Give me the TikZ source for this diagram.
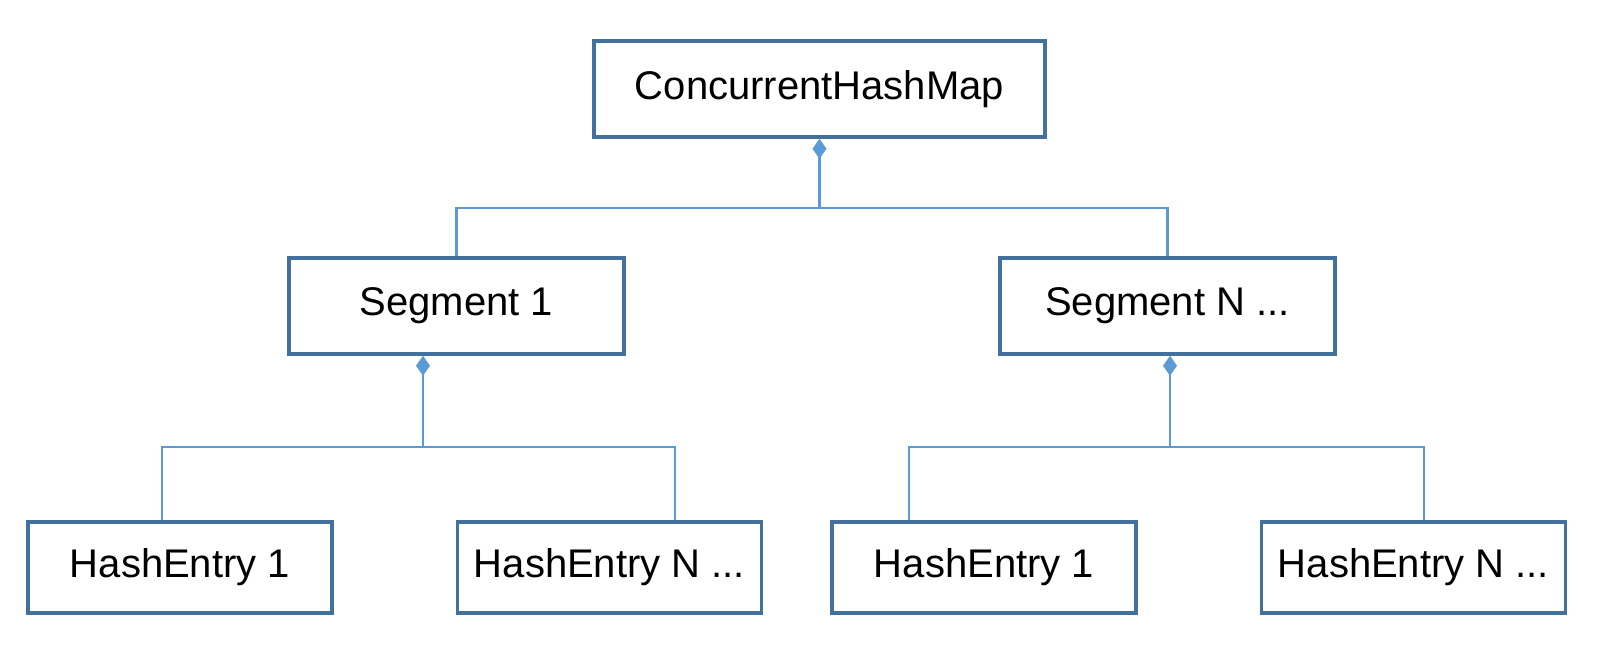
\documentclass[tikz,border=0pt]{standalone}
\usepackage{fontspec}
\setmainfont{Liberation Sans}
\usepackage{tikz}
\usetikzlibrary{arrows.meta,positioning}
\definecolor{box-edge}{HTML}{41719C}
\definecolor{link-blue}{HTML}{5B9BD5}

\begin{document}
\begin{tikzpicture}[x=0.5pt, y=-0.5pt,
    box/.style={draw=box-edge, line width=1.75pt, inner sep=0pt, minimum width=#1, font=\fontsize{20}{24}\selectfont},
    wire/.style={draw=link-blue, line width=1.4pt},
    comp/.style={wire, -{Diamond[length=10pt, width=7pt]}, link-blue}]
    \useasboundingbox (0,0) rectangle (1612,656);
    % top and middle level
    \node[box=225.5pt, minimum height=48pt] (chm) at (819.5,89) {ConcurrentHashMap};
    \node[box=167.5pt, minimum height=48pt] (seg1) at (456.5,306) {Segment 1};
    \node[box=167.5pt, minimum height=48pt] (segN) at (1167.5,306) {Segment N ...};
    % entries
    \node[box=152pt, minimum height=45.5pt] (he11) at (180,567.5) {HashEntry 1};
    \node[box=152pt, minimum height=45.5pt] (he1N) at (609.5,567.5) {HashEntry N ...};
    \node[box=152pt, minimum height=45.5pt] (heN1) at (984,567.5) {HashEntry 1};
    \node[box=152pt, minimum height=45.5pt] (heNN) at (1413.5,567.5) {HashEntry N ...};
    % bus points
    \coordinate (hub0) at (819.5,208);
    \coordinate (hub1) at (423,447);
    \coordinate (hub2) at (1170,447);
    \coordinate (d11) at (162,447);
    \coordinate (d1N) at (675,447);
    \coordinate (dN1) at (909,447);
    \coordinate (dNN) at (1424,447);
    \draw[wire] (seg1.north) -- (seg1.north |- hub0) -- (segN.north |- hub0) -- (segN.north);
    \draw[comp] (hub0) -- (chm.south);
    \draw[wire] (d11 |- he11.north) -- (d11) -- (d1N) -- (d1N |- he1N.north);
    \draw[comp] (hub1) -- (hub1 |- seg1.south);
    \draw[wire] (dN1 |- heN1.north) -- (dN1) -- (dNN) -- (dNN |- heNN.north);
    \draw[comp] (hub2) -- (hub2 |- segN.south);
\end{tikzpicture}
\end{document}
